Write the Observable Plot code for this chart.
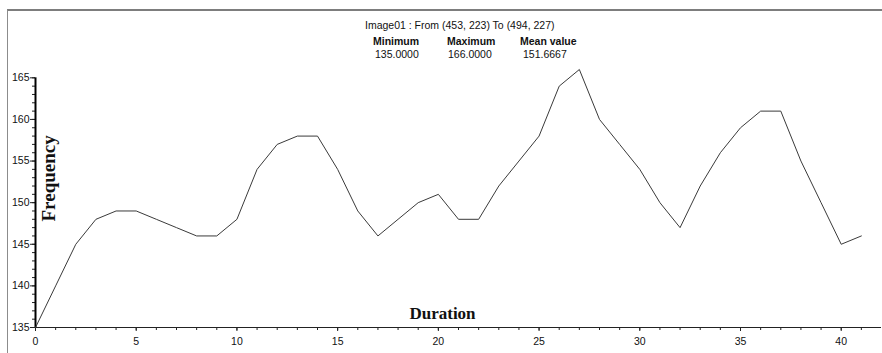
<!DOCTYPE html>
<html>
<head>
<meta charset="utf-8">
<script src="https://cdn.jsdelivr.net/npm/d3@7"></script>
<script src="https://cdn.jsdelivr.net/npm/@observablehq/plot@0.6"></script>
<style>
  html, body { margin: 0; padding: 0; background: #fff; }
  #wrap { position: relative; width: 882px; height: 353px; overflow: hidden; }
  #wrap svg { display: block; }
  .frame { position: absolute; left: 7px; top: 9px; width: 880px; height: 350px;
           border-top: 2px solid #7d7d7d; border-left: 1px solid #8c8c8c; box-sizing: border-box; }
  .hd { position: absolute; font-family: "Liberation Sans", Arial, sans-serif; font-size: 10.5px;
        line-height: 12px; color: #111; white-space: nowrap; }
  .b { font-weight: bold; }
</style>
</head>
<body>
<div id="wrap">
  <div class="frame"></div>
</div>
<script>
// ---- data ----
const durations = [0,1,2,3,4,5,6,7,8,9,10,11,12,13,14,15,16,17,18,19,20,
                   21,22,23,24,25,26,27,28,29,30,31,32,33,34,35,36,37,38,39,40,41];
const frequency = [135,140,145,148,149,149,148,147,146,146,148,154,157,158,158,154,149,146,148,150,
                   151,148,148,152,155,158,164,166,160,157,154,150,147,152,156,159,161,161,155,150,145,146];
const xMajorTicks = [0,5,10,15,20,25,30,35,40];
const xMinorTicks = d3.range(0, 42, 1);
const yMajorTicks = [135,140,145,150,155,160,165];
const yMinorTicks = d3.range(135, 166, 1);
const headerTitle = "Image01 : From (453, 223) To (494, 227)";
const statNames = ["Minimum", "Maximum", "Mean value"];
const statValues = ["135.0000", "166.0000", "151.6667"];
const xLabel = "Duration";
const yLabel = "Frequency";

const data = durations.map((d, i) => ({duration: d, frequency: frequency[i]}));

const chart = Plot.plot({
  width: 882,
  height: 353,
  marginLeft: 35,
  marginRight: 1,
  marginTop: 69,
  marginBottom: 26,
  x: {domain: [0, 42]},
  y: {domain: [135, 166]},
  style: {fontFamily: "'Liberation Sans', Arial, sans-serif", fontSize: "10.5px", color: "#111", background: "transparent"},
  marks: [
    Plot.axisX({ticks: xMinorTicks, tickSize: 3, tickFormat: () => "", label: null, stroke: "#222"}),
    Plot.axisX({ticks: xMajorTicks, tickSize: 4, tickPadding: 6, label: null, stroke: "#222"}),
    Plot.axisY({ticks: yMinorTicks, tickSize: 3, tickFormat: () => "", label: null, stroke: "#222"}),
    Plot.axisY({ticks: yMajorTicks, tickSize: 5, tickPadding: 1, label: null, stroke: "#222"}),
    Plot.ruleY([yMajorTicks[0]], {stroke: "#222", strokeWidth: 1}),
    Plot.ruleX([xMajorTicks[0]], {y1: yMajorTicks[0], y2: yMajorTicks[yMajorTicks.length - 1], stroke: "#000", strokeWidth: 2}),
    Plot.line(data, {x: "duration", y: "frequency", stroke: "#3a3a3a", strokeWidth: 1}),
    Plot.text([yLabel], {text: d => d, frameAnchor: "left", dx: 13, dy: 23, rotate: -90,
      fontFamily: "'Liberation Serif', 'Times New Roman', serif", fontWeight: "bold", fontSize: 19, fill: "#111"}),
    Plot.text([xLabel], {text: d => d, frameAnchor: "bottom", dx: -16, dy: -9,
      fontFamily: "'Liberation Serif', 'Times New Roman', serif", fontWeight: "bold", fontSize: 17, fill: "#111"})
  ]
});

const wrap = document.getElementById("wrap");
wrap.insertBefore(chart, wrap.firstChild);

function addText(txt, left, top, bold) {
  const d = document.createElement("div");
  d.className = "hd" + (bold ? " b" : "");
  d.style.left = left + "px";
  d.style.top = top + "px";
  d.textContent = txt;
  wrap.appendChild(d);
}
addText(headerTitle, 365, 18.7, false);
const statLefts = [373, 447, 520];
const valueLefts = [375, 448, 523];
statNames.forEach((s, i) => addText(s, statLefts[i], 34.7, true));
statValues.forEach((s, i) => addText(s, valueLefts[i], 48.1, false));
</script>
</body>
</html>
